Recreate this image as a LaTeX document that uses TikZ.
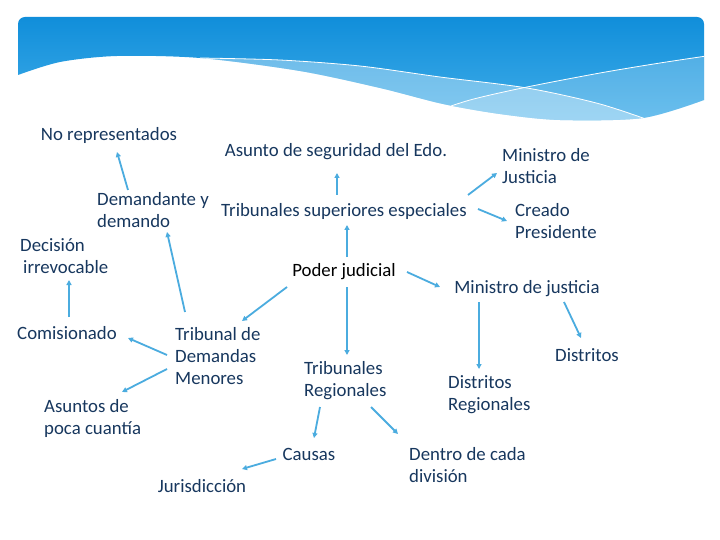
\documentclass[tikz,border=0pt]{standalone}
\usepackage{fontspec}
\setmainfont{Carlito}
\usetikzlibrary{arrows.meta,calc}
\definecolor{txt}{HTML}{17375E}
\definecolor{arrc}{HTML}{4BACDF}
\definecolor{hdtop}{HTML}{0D8CD9}
\definecolor{hdbot}{HTML}{45B0EA}
\begin{document}
\begin{tikzpicture}[x=1pt,y=-1pt,
  lbl/.style={inner sep=0pt, text=txt, font=\fontsize{18.8}{22}\selectfont},
  lblL/.style={lbl, align=left, anchor=west},
  arr/.style={draw=arrc, line width=1.8pt, -{Triangle[length=5pt,width=5pt]}}]
\useasboundingbox[fill=white] (0,0) rectangle (720,540);
% header
\begin{scope}
\clip[rounded corners=7pt] (18,17) rectangle (704,140);
\clip (0,0) -- (0,75) -- plot[smooth] coordinates {(18,75) (60,62) (117,56) (200,58) (300,71) (380,88) (443,104) (500,114) (560,120) (643,118) (704,100)} -- (720,100) -- (720,0) -- cycle;
\shade[top color=hdtop,bottom color=hdbot] (0,10) rectangle (720,130);
\fill[white,opacity=.35] plot[smooth] coordinates {(200,58) (280,60) (360,66) (440,77) (527,88) (600,104) (660,124)} -- (660,140) -- (200,140) -- cycle;
\fill[white,opacity=.22] plot[smooth] coordinates {(425,115) (470,100) (527,87) (600,73) (660,63) (720,54)} -- (720,140) -- (425,140) -- cycle;
\draw[white,line width=.8pt] plot[smooth] coordinates {(200,58) (280,60) (360,66) (440,77) (527,88) (600,104) (660,124)};
\draw[white,line width=.8pt] plot[smooth] coordinates {(425,115) (470,100) (527,87) (600,73) (660,63) (720,54)};
\end{scope}
% nodes
\node[lbl] (norep) at (109,135) {No representados};
\node[lbl] (asunto) at (336,152) {Asunto de seguridad del Edo.};
\node[lblL] (minJ) at (502,166) {Ministro de\\Justicia};
\node[lblL] (dem) at (97,210) {Demandante y\\demando};
\node[lbl] (tss) at (344,211) {Tribunales superiores especiales};
\node[lblL] (creado) at (515,221) {Creado\\Presidente};
\node[lblL] (decision) at (20,256) {Decisión\\\hspace*{3pt}irrevocable};
\node[lbl,text=black] (pj) at (344,272) {Poder judicial};
\node[lbl] (mjus) at (527,289) {Ministro de justicia};
\node[lbl] (comis) at (67,333) {Comisionado};
\node[lblL] (tdm) at (175,356) {Tribunal de\\Demandas\\Menores};
\node[lbl] (distritos) at (587,355) {Distritos};
\node[lblL] (treg) at (304,381) {Tribunales\\Regionales};
\node[lblL] (dreg) at (448,395) {Distritos\\Regionales};
\node[lblL] (asuntos) at (44,418) {Asuntos de\\poca cuantía};
\node[lbl] (causas) at (309,454) {Causas};
\node[lblL] (dentro) at (409,465) {Dentro de cada\\división};
\node[lbl] (juris) at (202,486) {Jurisdicción};
% connectors
\draw[arr] ($(dem.west)+(31,-20)$) -- ($(norep)+(8,17)$);
\draw[arr] ($(tss)+(-7,-16)$) -- ($(asunto)+(1,21)$);
\draw[arr] ($(tdm.west)+(10,-44)$) -- ($(dem.west)+(70,22)$);
\draw[arr] ($(comis)+(2,-16)$) -- ($(decision.west)+(49,24)$);
\draw[arr] ($(pj)+(3,-15)$) -- ($(tss)+(3,14)$);
\draw[arr] ($(pj)+(-57,15)$) -- ($(tdm.west)+(67,-35)$);
\draw[arr] ($(tss)+(124,-16)$) -- ($(minJ.west)+(-5,7)$);
\draw[arr] ($(tss)+(134,-2)$) -- ($(creado.west)+(-8,0)$);
\draw[arr] ($(pj)+(63,0)$) -- ($(mjus)+(-87,-2)$);
\draw[arr] ($(mjus)+(-48,13)$) -- ($(dreg.west)+(31,-26)$);
\draw[arr] ($(mjus)+(37,13)$) -- ($(distritos)+(-6,-17)$);
\draw[arr] ($(pj)+(3,15)$) -- ($(treg.west)+(43,-26)$);
\draw[arr] ($(tdm.west)+(-8,-1)$) -- ($(comis)+(61,5)$);
\draw[arr] ($(tdm.west)+(-8,13)$) -- ($(asuntos.west)+(78,-26)$);
\draw[arr] ($(treg.west)+(16,26)$) -- ($(causas)+(5,-16)$);
\draw[arr] ($(causas)+(-33,5)$) -- ($(juris)+(40,-17)$);
\draw[arr] ($(treg.west)+(67,26)$) -- ($(dentro.west)+(-11,-31)$);
\end{tikzpicture}
\end{document}
